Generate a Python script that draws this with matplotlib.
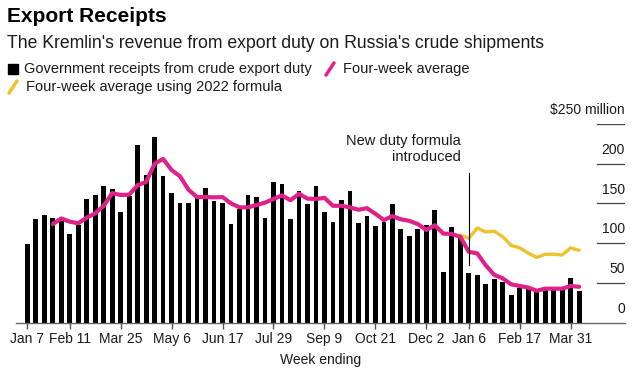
import numpy as np
import pandas as pd
import matplotlib
matplotlib.use('Agg')  # batch mode
import matplotlib.pyplot as plt
from matplotlib.lines import Line2D
from matplotlib.patches import Rectangle

plt.rcParams['font.family'] = ['Liberation Sans', 'DejaVu Sans']

# weekly receipts, $ million, week ending Jan 7 2022 onwards
receipts = [99, 130, 136, 131, 129, 111, 123, 156, 160, 172, 168, 139, 159, 223, 186, 233, 184,
            163, 151, 151, 161, 169, 153, 150, 124, 143, 161, 158, 132, 177, 175, 130, 166, 149,
            172, 139, 126, 154, 166, 125, 134, 121, 127, 149, 118, 109, 118, 123, 142, 64, 120,
            110, 62, 60, 48.5, 55, 51, 35, 43, 42, 38, 42, 41, 42, 55.6, 39.7]

# four-week average, starts with the 4th week
avg_4wk = [124, 131, 127, 125, 132, 137.5, 147, 163, 160.6, 161, 173, 177, 200, 206,
           192, 184, 167, 158, 158, 157.6, 158, 150, 145, 145, 148, 151, 155.5, 160, 154, 162, 156,
           155.6, 157, 147, 147, 145, 142, 144, 137, 129, 134, 130, 128, 124, 116.5, 122.5, 112, 111.5,
           108, 89, 87, 72, 60, 55.6, 48, 46, 44, 40, 42.6, 42.6, 42.6, 46, 45]

# four-week average using 2022 formula, starts at week 52
avg_2022 = [110, 106, 119, 114, 115, 108, 97, 94, 87.5, 82, 86, 86, 85, 94, 91]

tick_dates = ['2022-01-07', '2022-02-11', '2022-03-25', '2022-05-06', '2022-06-17', '2022-07-29',
              '2022-09-09', '2022-10-21', '2022-12-02', '2023-01-06', '2023-02-17', '2023-03-31']
tick_labels = ['Jan 7', 'Feb 11', 'Mar 25', 'May 6', 'Jun 17', 'Jul 29',
               'Sep 9', 'Oct 21', 'Dec 2', 'Jan 6', 'Feb 17', 'Mar 31']
y_ticks = [0, 50, 100, 150, 200, 250]
y_labels = ['0', '50', '100', '150', '200', '$250 million']

weeks = pd.date_range('2022-01-07', periods=len(receipts), freq='7D')
pink = '#e0218a'
yellow = '#efc12c'

W, H = 638, 376
def fx(px):
  return px / W
def fy(py):
  return 1 - py / H

fig = plt.figure(figsize=(W / 100, H / 100), dpi=100)
ax = fig.add_axes([fx(16), fy(322.5), (625 - 16) / W, (322.5 - 124) / H])

ax.bar(weeks, receipts, width=3.9, color='black', zorder=2)
ax.plot(weeks[51:51 + len(avg_2022)], avg_2022, color=yellow, lw=2.4, zorder=3,
        solid_capstyle='round', solid_joinstyle='round')
ax.plot(weeks[3:3 + len(avg_4wk)], avg_4wk, color=pink, lw=3.0, zorder=4,
        solid_capstyle='round', solid_joinstyle='round')

x0 = weeks[0] - pd.Timedelta(days=9.3)
x1 = weeks[0] + pd.Timedelta(days=492.8)
ax.set_xlim(x0, x1)
ax.set_ylim(0, 250)

for s in ['top', 'right', 'left']:
  ax.spines[s].set_visible(False)
ax.spines['bottom'].set_color('#666666')
ax.spines['bottom'].set_linewidth(1.0)
ax.set_yticks([])
ax.set_xticks(pd.to_datetime(tick_dates))
ax.set_xticklabels(tick_labels, fontsize=10, color='#1a1a1a')
ax.tick_params(axis='x', length=4, width=1, color='#555555', pad=3)
ax.set_xlabel('Week ending', fontsize=10, color='#1a1a1a', labelpad=5)

# short right-hand gridlines and labels sitting above them
for v, lab in zip(y_ticks, y_labels):
  if v > 0:
    ax.axhline(v, xmin=(597 - 16) / 609, xmax=1, color='#444444', lw=0.9, zorder=1)
  ax.annotate(lab, xy=(1, v), xycoords=('axes fraction', 'data'), xytext=(0, 10),
              textcoords='offset points', ha='right', va='center', fontsize=10,
              color='#1a1a1a', annotation_clip=False)

# new duty formula annotation
ax.plot([weeks[52], weeks[52]], [72, 188], color='black', lw=0.8, zorder=5)
ax.text(weeks[52] - pd.Timedelta(days=6.3), 218.5, 'New duty formula\nintroduced',
        ha='right', va='center', multialignment='right', fontsize=10.5,
        color='#1a1a1a', linespacing=1.15)

# title block
fig.text(fx(7), fy(17), 'Export Receipts', fontsize=15, fontweight='bold', va='center')
fig.text(fx(7), fy(44), "The Kremlin's revenue from export duty on Russia's crude shipments",
         fontsize=12.7, va='center', color='#1a1a1a')

# legend
fig.add_artist(Rectangle((fx(8), fy(74)), 10 / W, 10 / H, transform=fig.transFigure,
                         color='black'))
fig.text(fx(24), fy(69), 'Government receipts from crude export duty', fontsize=10.5,
         va='center', color='#1a1a1a')
fig.add_artist(Line2D([fx(326), fx(334)], [fy(75), fy(63)], color=pink, lw=2.5,
                      solid_capstyle='round'))
fig.text(fx(343), fy(69), 'Four-week average', fontsize=10.5, va='center', color='#1a1a1a')
fig.add_artist(Line2D([fx(9), fx(17)], [fy(93), fy(81)], color=yellow, lw=2.5,
                      solid_capstyle='round'))
fig.text(fx(26), fy(87), 'Four-week average using 2022 formula', fontsize=10.5,
         va='center', color='#1a1a1a')

fig.savefig('out.png', dpi=100)
plt.close()
